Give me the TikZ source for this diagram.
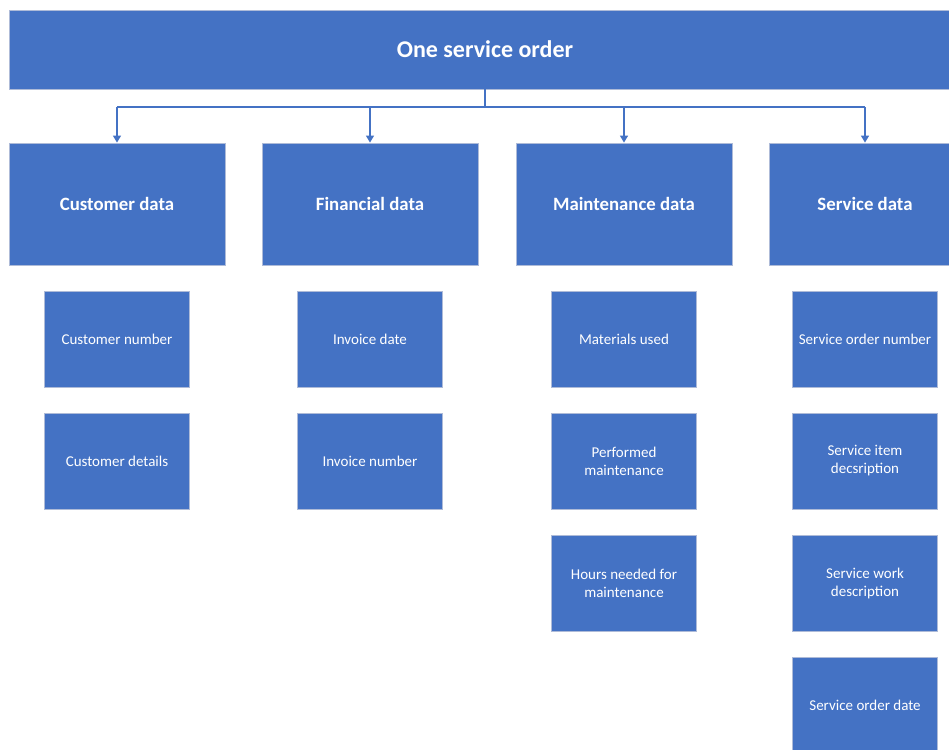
\documentclass[tikz,border=0pt]{standalone}
\usepackage{fontspec}
\setmainfont{Carlito}
\usetikzlibrary{arrows.meta}
\definecolor{boxblue}{HTML}{4472C4}
\definecolor{boxedge}{HTML}{AEBBD8}
\tikzset{
  x=1pt, y=-1pt,
  base/.style={fill=boxblue, draw=boxedge, line width=0.8pt, text=white,
               align=center, inner sep=2pt, anchor=center},
  rootbox/.style={base, minimum width=952pt, minimum height=79pt,
                  font=\fontsize{24}{28}\selectfont\bfseries},
  groupbox/.style={base, minimum width=216pt, minimum height=122pt,
                   font=\fontsize{18.8}{22}\selectfont\bfseries},
  itembox/.style={base, minimum width=145pt, minimum height=96pt,
                  font=\fontsize{15}{18}\selectfont},
  link/.style={draw=boxblue, line width=1.3pt},
  arrowlink/.style={link, -{Triangle[width=8pt,length=7pt]}}
}
\begin{document}
\begin{tikzpicture}
\useasboundingbox (0,0) rectangle (949,749);
\clip (0,0) rectangle (949,749);

% top level
\node[rootbox] (root) at (485,49.5) {One service order};

% group level
\node[groupbox] (cust) at (117,204) {Customer data};
\node[groupbox] (fin)  at (370,204) {Financial data};
\node[groupbox] (mnt)  at (624,204) {Maintenance data};
\node[groupbox, minimum width=192pt] (srv) at (865,204) {Service data};

% connectors from the order to each group
\coordinate (bus) at (485,107);
\draw[link] (root.south) -- (bus);
\draw[link] (117,107) -- (865,107);
\draw[arrowlink] (117,107) -- (cust.north);
\draw[arrowlink] (370,107) -- (fin.north);
\draw[arrowlink] (624,107) -- (mnt.north);
\draw[arrowlink] (865,107) -- (srv.north);

% customer items
\node[itembox] (c1) at (117,339) {Customer number};
\node[itembox] (c2) at (117,461) {Customer details};

% financial items
\node[itembox] (f1) at (370,339) {Invoice date};
\node[itembox] (f2) at (370,461) {Invoice number};

% maintenance items
\node[itembox] (m1) at (624,339) {Materials used};
\node[itembox] (m2) at (624,461) {Performed\\maintenance};
\node[itembox] (m3) at (624,583) {Hours needed for\\maintenance};

% service items
\node[itembox] (s1) at (865,339) {Service order number};
\node[itembox] (s2) at (865,461) {Service item\\decsription};
\node[itembox] (s3) at (865,583) {Service work\\description};
\node[itembox] (s4) at (865,705) {Service order date};
\end{tikzpicture}
\end{document}
